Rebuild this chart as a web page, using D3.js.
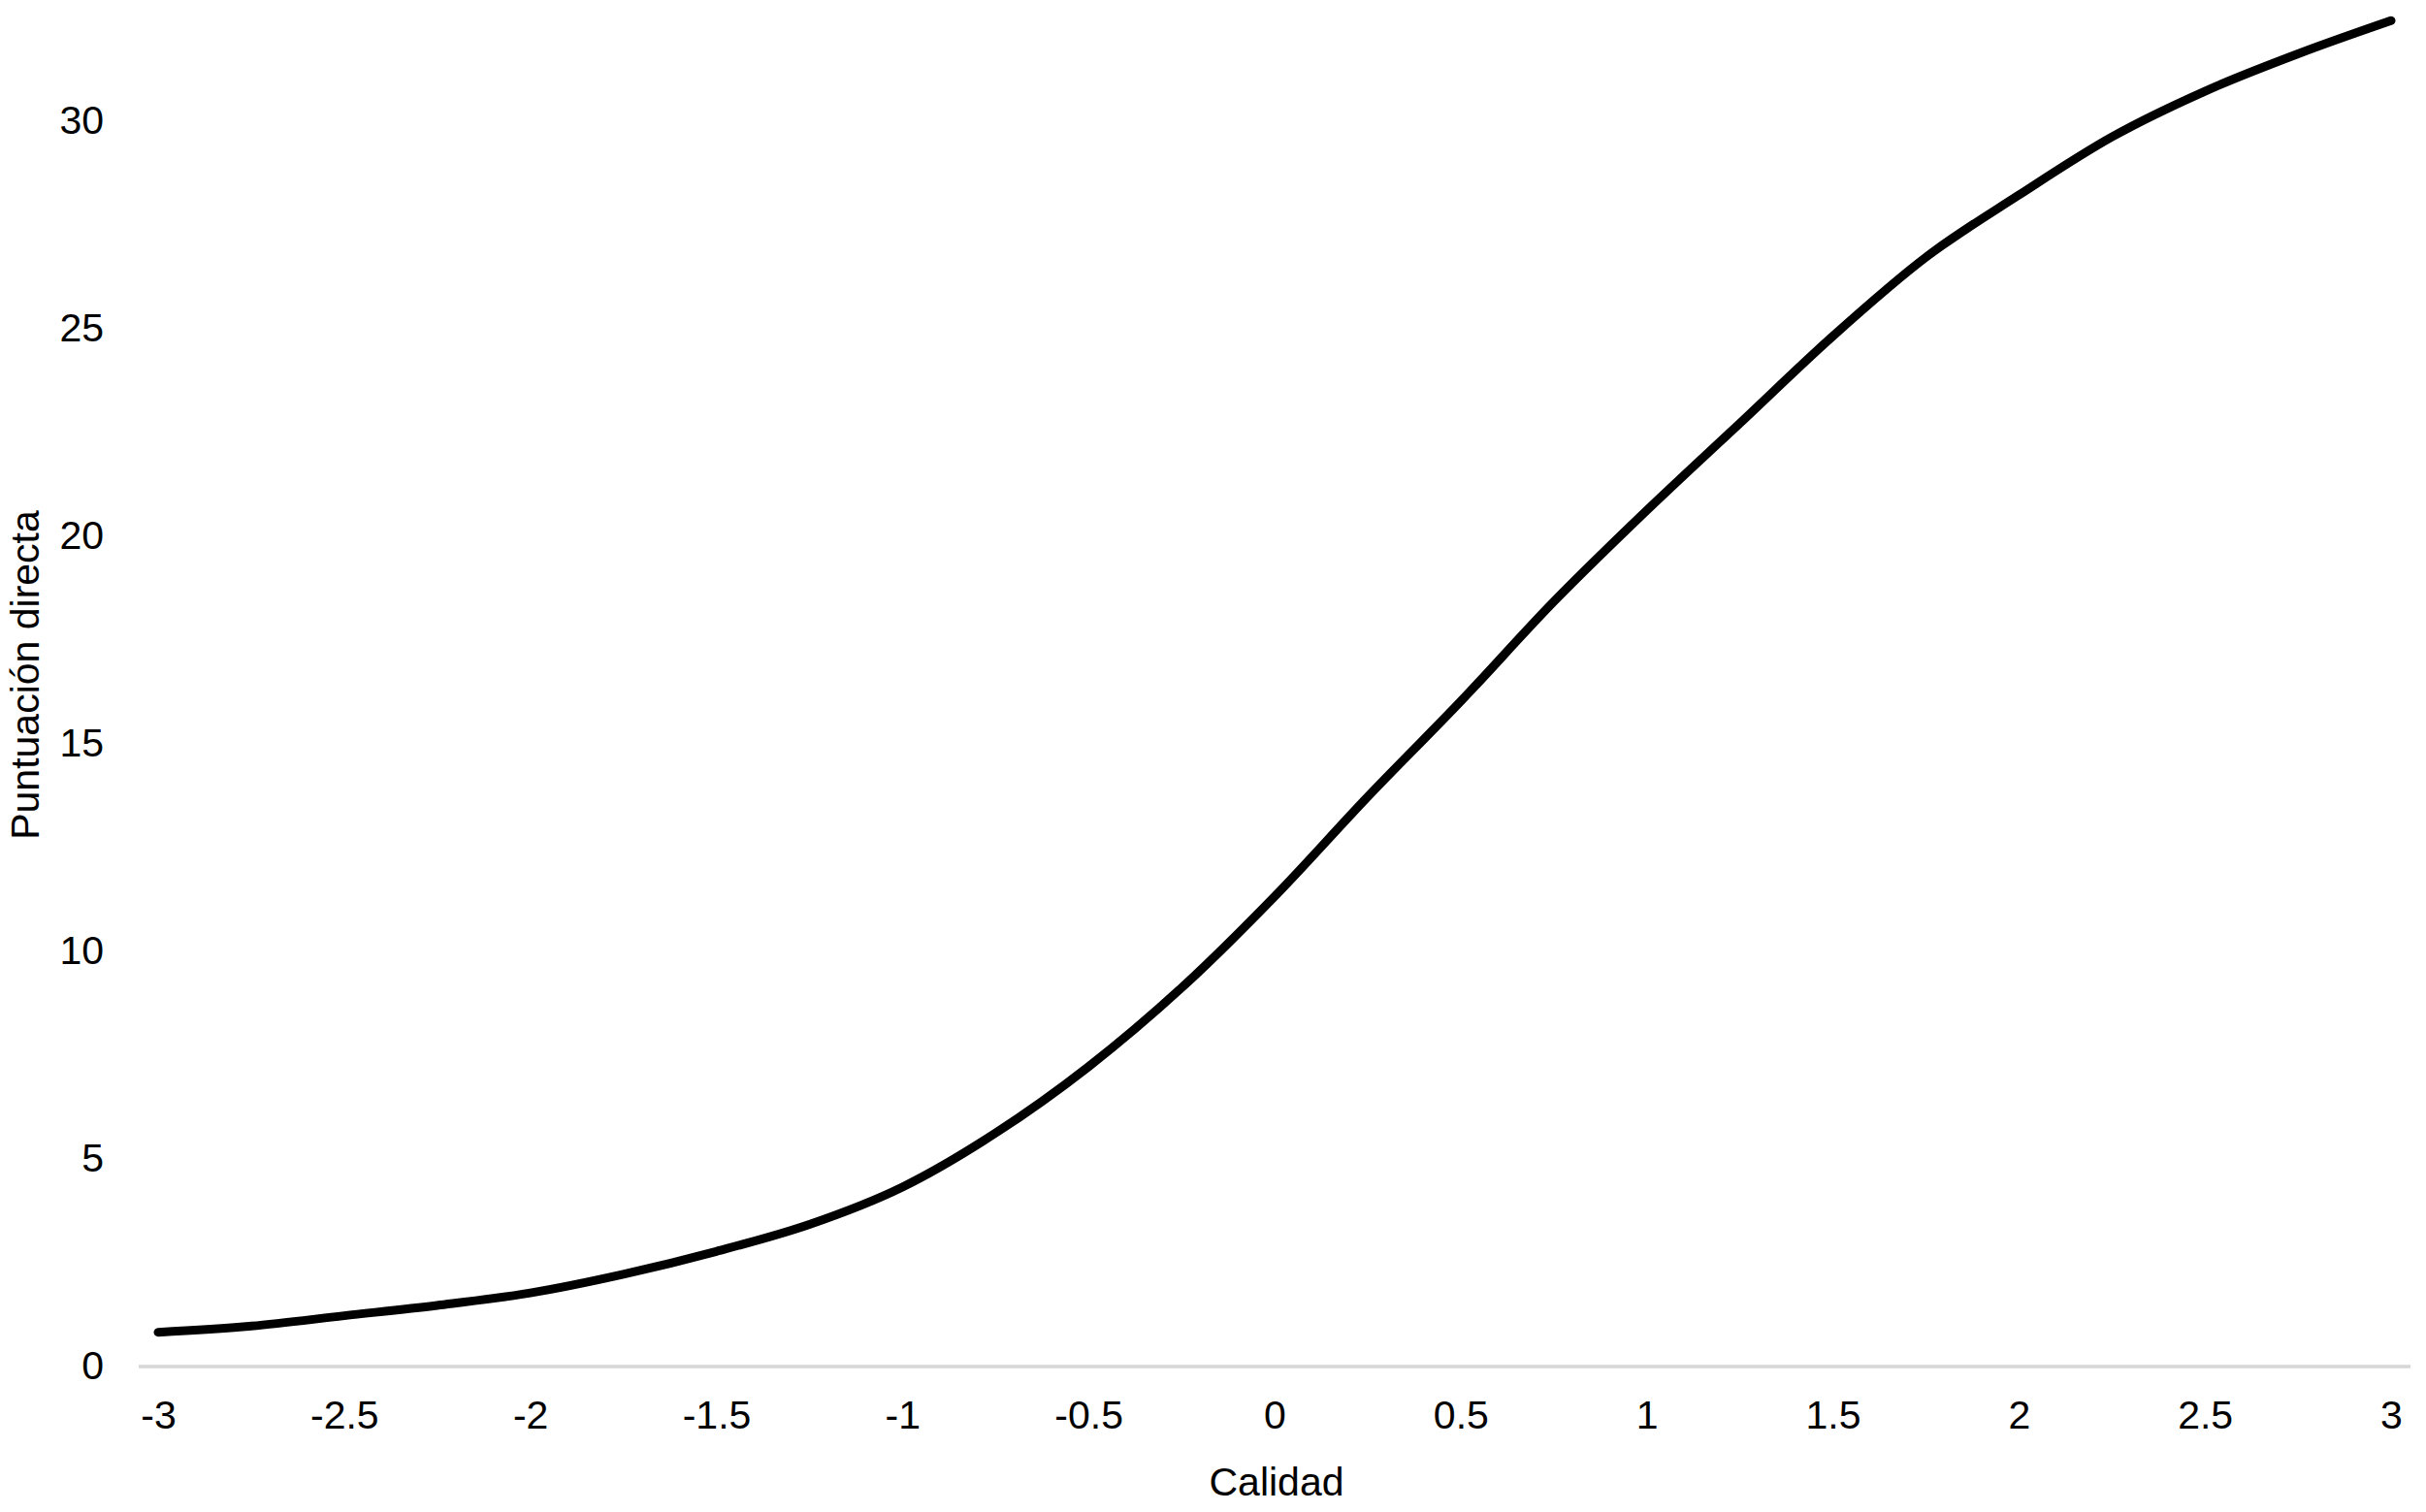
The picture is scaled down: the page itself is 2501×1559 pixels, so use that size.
<!DOCTYPE html>
<html>
<head>
<meta charset="utf-8">
<script src="https://cdn.jsdelivr.net/npm/d3@7"></script>
<style>
  html, body { margin: 0; padding: 0; background: #ffffff; }
  svg { display: block; }
</style>
</head>
<body>
<svg id="chart"></svg>
<script>
// Curve points (Calidad -> Puntuación directa)
const calidad = [-3, -2.75, -2.5, -2.25, -2, -1.75, -1.5, -1.25, -1, -0.75, -0.5, -0.25,
  0, 0.25, 0.5, 0.75, 1, 1.25, 1.5, 1.75, 2, 2.25, 2.5, 2.75, 3];
const puntuacion = [0.8, 0.95, 1.2, 1.45, 1.75, 2.2, 2.75, 3.4, 4.3, 5.6, 7.2, 9.1,
  11.3, 13.7, 16.0, 18.4, 20.6, 22.7, 24.8, 26.7, 28.2, 29.6, 30.7, 31.6, 32.4];

const xTicks = [-3, -2.5, -2, -1.5, -1, -0.5, 0, 0.5, 1, 1.5, 2, 2.5, 3];
const yTicks = [0, 5, 10, 15, 20, 25, 30];

const xTitle = 'Calidad';
const yTitle = 'Puntuación directa';

const width = 2501;
const height = 1559;
const FONT = '"Liberation Sans", Arial, Helvetica, sans-serif';

const svg = d3.select('#chart')
  .attr('width', width)
  .attr('height', height);

const x = d3.scaleLinear().domain([-3, 3]).range([163, 2465]);
const y = d3.scaleLinear().domain([0, 30]).range([1408, 124]);

// Baseline (light grey category axis line)
svg.append('line')
  .attr('x1', x(-3) - 20).attr('x2', x(3) + 20)
  .attr('y1', y(0) + 1).attr('y2', y(0) + 1)
  .attr('stroke', '#d6d6d6')
  .attr('stroke-width', 3.5);

// X axis labels
const xAxis = d3.axisBottom(x)
  .tickValues(xTicks)
  .tickSize(0)
  .tickPadding(0)
  .tickFormat(d => String(d));

svg.append('g')
  .attr('transform', `translate(0,${y(0)})`)
  .call(xAxis)
  .call(g => g.select('.domain').remove())
  .call(g => g.selectAll('text')
    .attr('dy', null)
    .attr('y', 65)
    .attr('fill', '#000')
    .attr('font-family', FONT)
    .attr('font-size', '41px'));

// Y axis labels
const yAxis = d3.axisLeft(y)
  .tickValues(yTicks)
  .tickSize(0)
  .tickPadding(0)
  .tickFormat(d => String(d));

svg.append('g')
  .attr('transform', 'translate(107,0)')
  .call(yAxis)
  .call(g => g.select('.domain').remove())
  .call(g => g.selectAll('text')
    .attr('x', 0)
    .attr('dy', '0.34em')
    .attr('fill', '#000')
    .attr('font-family', FONT)
    .attr('font-size', '41px'));

// Axis titles
svg.append('text')
  .attr('x', 1316)
  .attr('y', 1542)
  .attr('text-anchor', 'middle')
  .attr('fill', '#000')
  .attr('font-family', FONT)
  .attr('font-size', '41px')
  .text(xTitle);

svg.append('text')
  .attr('transform', 'translate(40,696) rotate(-90)')
  .attr('text-anchor', 'middle')
  .attr('fill', '#000')
  .attr('font-family', FONT)
  .attr('font-size', '41px')
  .text(yTitle);

// The curve
const points = calidad.map((c, i) => ({ c, p: puntuacion[i] }));

const line = d3.line()
  .x(d => x(d.c))
  .y(d => y(d.p))
  .curve(d3.curveMonotoneX);

svg.append('path')
  .datum(points)
  .attr('d', line)
  .attr('fill', 'none')
  .attr('stroke', '#000')
  .attr('stroke-width', 9)
  .attr('stroke-linecap', 'round')
  .attr('stroke-linejoin', 'round');
</script>
</body>
</html>
